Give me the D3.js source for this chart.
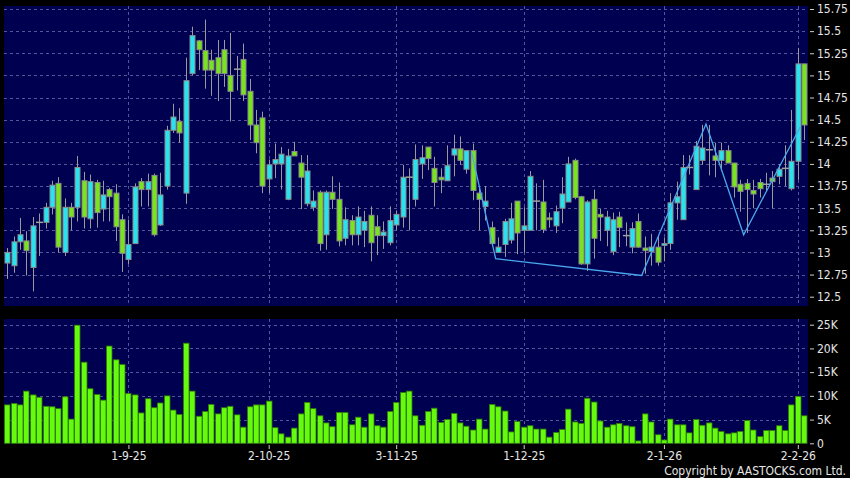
<!DOCTYPE html>
<html>
<head>
<meta charset="utf-8">
<script src="https://cdn.jsdelivr.net/npm/d3@7"></script>
<style>
body { margin: 0; background: #000; }
svg { display: block; }
</style>
</head>
<body>
<div id="canvas"></div>
<script>
// daily candles, oldest first
var openP = [12.88,12.85,13.12,13.13,12.83,13.34,13.34,13.51,13.78,13.00,
  13.51,13.51,13.81,13.38,13.79,13.49,13.71,13.67,13.37,12.92,
  13.10,13.80,13.71,13.87,13.31,13.75,14.38,14.48,13.67,15.02,
  15.39,15.28,15.17,15.20,15.29,15.00,15.07,15.18,14.82,14.44,
  14.52,13.83,14.00,14.00,13.60,14.14,14.01,13.55,13.51,13.68,
  13.20,13.68,13.60,13.16,13.36,13.20,13.25,13.42,13.29,13.19,
  13.11,13.31,13.40,13.85,13.60,14.00,14.19,13.95,13.85,13.81,
  14.10,14.17,13.94,14.15,13.67,13.52,13.28,13.00,13.09,13.14,
  13.58,13.25,13.25,13.58,13.57,13.39,13.30,13.50,13.57,14.04,
  13.63,12.87,13.60,13.43,13.25,13.01,13.40,13.19,13.06,13.35,
  13.05,13.01,13.06,13.08,13.10,13.56,13.37,13.96,13.71,14.04,
  14.16,14.09,14.04,14.15,14.01,13.77,13.78,13.70,13.79,13.77,
  13.84,13.86,13.95,13.72,14.03,15.13];
var highP = [13.05,13.18,13.39,13.24,13.40,13.44,13.56,13.81,13.85,13.61,
  13.56,14.09,13.91,13.88,13.82,13.81,13.73,13.77,13.43,13.37,
  13.78,13.84,13.89,13.89,13.90,14.43,14.68,14.63,15.20,15.55,
  15.40,15.63,15.29,15.40,15.40,15.48,15.22,15.36,14.96,14.61,
  14.59,14.05,14.23,14.19,14.17,14.25,14.10,14.10,13.70,13.70,
  13.70,13.86,13.79,13.51,13.42,13.52,13.47,13.52,13.42,13.35,
  13.52,13.47,13.99,13.95,14.22,14.21,14.19,14.08,13.95,14.21,
  14.33,14.31,14.15,14.23,13.75,13.75,13.35,13.17,13.38,13.56,
  13.58,13.51,13.92,13.78,13.82,13.45,13.53,13.85,14.08,14.06,
  13.64,13.59,13.71,13.49,13.47,13.45,13.46,13.34,13.34,13.44,
  13.18,13.21,13.19,13.17,13.67,13.80,14.10,14.10,14.26,14.44,
  14.44,14.24,14.24,14.21,14.01,13.82,13.83,13.82,13.83,13.90,
  13.92,14.00,14.21,14.61,15.31,15.13];
var lowP = [12.70,12.77,13.03,12.74,12.56,12.96,13.27,13.43,13.00,12.96,
  13.25,13.35,13.27,13.27,13.28,13.35,13.35,13.13,12.78,12.87,
  13.10,13.52,13.52,13.18,13.30,13.71,14.35,14.24,13.55,15.00,
  15.06,14.85,14.77,14.71,14.87,14.48,14.83,14.71,14.27,14.12,
  13.67,13.67,13.84,13.71,13.59,14.09,13.49,13.52,13.47,13.02,
  13.03,13.49,13.07,13.08,13.08,13.08,13.06,12.90,12.97,13.04,
  13.08,13.25,13.28,13.25,13.52,13.83,13.93,13.52,13.67,13.81,
  13.86,13.99,13.89,13.59,13.25,13.36,13.09,13.00,12.95,13.10,
  12.98,13.00,13.25,13.25,13.22,13.28,13.22,13.33,13.57,13.60,
  12.86,12.79,12.93,13.13,13.07,12.97,13.06,13.07,12.99,13.05,
  12.76,12.85,12.85,12.90,13.03,13.37,13.37,13.88,13.71,13.99,
  13.87,13.85,13.92,14.01,13.62,13.46,13.22,13.50,13.62,13.70,
  13.50,13.77,13.75,13.70,13.82,14.27];
var closeP = [13.00,13.12,13.20,13.02,13.30,13.34,13.51,13.76,13.06,13.51,
  13.40,13.96,13.40,13.80,13.45,13.65,13.63,13.29,12.99,13.09,
  13.74,13.71,13.80,13.20,13.65,14.38,14.53,14.35,14.94,15.45,
  15.29,15.06,15.06,15.02,15.02,14.82,15.07,14.78,14.44,14.24,
  13.75,13.99,14.05,14.11,14.09,14.09,13.85,13.92,13.58,13.10,
  13.68,13.60,13.13,13.37,13.20,13.40,13.35,13.11,13.19,13.23,
  13.36,13.43,13.85,13.85,14.05,14.07,14.06,13.79,13.82,13.98,
  14.17,14.04,14.15,13.70,13.60,13.58,13.10,13.06,13.35,13.38,
  13.22,13.30,13.86,13.58,13.26,13.37,13.46,13.66,14.00,13.62,
  12.87,13.57,13.16,13.40,13.40,13.37,13.28,13.19,13.27,13.06,
  13.02,13.06,12.89,13.10,13.56,13.63,13.96,13.96,14.20,14.18,
  14.16,14.04,14.15,14.01,13.74,13.69,13.71,13.66,13.72,13.77,
  13.80,13.94,13.95,14.03,15.13,14.44];
// volume, thousands of shares
var volume = [8.1,8.4,8.1,11.0,10.2,9.7,7.8,7.7,7.3,9.8,
  5.1,24.9,17.1,11.5,10.3,9.1,20.5,17.6,16.6,10.5,
  10.2,6.4,9.4,7.5,8.5,10.0,7.0,6.1,21.1,11.0,
  5.7,6.7,8.2,6.2,7.5,7.8,6.0,3.4,7.7,8.1,
  8.1,8.9,3.3,2.0,1.3,3.2,6.2,8.6,7.3,5.8,
  4.3,3.5,6.5,6.5,3.9,5.5,3.4,6.2,3.7,3.4,
  6.7,8.6,10.7,11.0,5.8,3.8,6.7,7.4,4.4,5.0,
  6.3,4.3,3.6,2.8,5.1,3.0,8.2,7.7,6.8,2.4,
  4.6,3.4,3.7,3.0,3.0,1.3,2.3,2.9,7.2,4.5,
  4.2,9.5,8.7,4.7,3.4,3.9,4.2,3.7,3.5,0.5,
  6.2,4.5,1.8,0.7,5.1,3.9,3.9,2.2,5.0,3.8,
  4.3,3.2,2.5,2.0,2.2,2.5,4.8,2.8,1.4,2.7,
  2.7,3.7,2.7,8.1,9.9,5.8];

var tickIdx = [19, 41, 61, 81, 103, 124];
var tickLabels = ['1-9-25', '2-10-25', '3-11-25', '1-12-25', '2-1-26', '2-2-26'];
var priceTicks = [12.5, 12.75, 13, 13.25, 13.5, 13.75, 14, 14.25, 14.5, 14.75, 15, 15.25, 15.5, 15.75];
var volTicks = [0, 5, 10, 15, 20, 25];
var volTickLabels = ['0', '5K', '10K', '15K', '20K', '25K'];
// pattern line drawn over the candles (candle position, price)
var zigIdx = [72.8, 76.6, 99.5, 109.6, 115.5, 124.4];
var zigPrice = [14.14, 12.93, 12.74, 14.45, 13.20, 14.42];

var width = 850, height = 478;
var pp = { left: 4, right: 808, top: 6, bottom: 306 };   // price panel
var vp = { left: 4, right: 808, top: 319, bottom: 444 }; // volume panel
var font = '"DejaVu Sans Condensed", "DejaVu Sans", sans-serif';
var gridColor = '#55559a';
var upColor = '#27e3f0', downColor = '#78e41c';

var svg = d3.select('#canvas').append('svg')
  .attr('width', width).attr('height', height)
  .style('background', '#000');

var x = d3.scaleLinear().domain([0, openP.length - 1]).range([7.3, 804.2]);
var y = d3.scaleLinear().domain([12.5, 15.75]).range([296.7, 9]);
var yv = d3.scaleLinear().domain([0, 25]).range([443.3, 324.7]);

// panel backgrounds
[pp, vp].forEach(function (p) {
  svg.append('rect')
    .attr('x', p.left).attr('y', p.top)
    .attr('width', p.right - p.left).attr('height', p.bottom - p.top)
    .attr('fill', '#000050');
});

// grids
var grid = svg.append('g').attr('stroke', gridColor).attr('stroke-dasharray', '3,3').attr('stroke-width', 1);
priceTicks.forEach(function (t) {
  grid.append('line').attr('x1', pp.left).attr('x2', pp.right)
    .attr('y1', Math.round(y(t)) + 0.5).attr('y2', Math.round(y(t)) + 0.5);
});
volTicks.slice(1).forEach(function (t) {
  grid.append('line').attr('x1', vp.left).attr('x2', vp.right)
    .attr('y1', Math.round(yv(t)) + 0.5).attr('y2', Math.round(yv(t)) + 0.5);
});
tickIdx.forEach(function (t) {
  var gx = Math.round(x(t)) + 0.5;
  grid.append('line').attr('x1', gx).attr('x2', gx).attr('y1', pp.top).attr('y2', pp.bottom);
  grid.append('line').attr('x1', gx).attr('x2', gx).attr('y1', vp.top).attr('y2', vp.bottom);
});

// candles
var bw = 5;
var candles = svg.append('g').selectAll('g')
  .data(d3.range(openP.length))
  .enter().append('g');

candles.append('line')
  .attr('x1', function (i) { return Math.round(x(i)) + 0.5; })
  .attr('x2', function (i) { return Math.round(x(i)) + 0.5; })
  .attr('y1', function (i) { return y(highP[i]); })
  .attr('y2', function (i) { return y(lowP[i]); })
  .attr('stroke', '#9a9a9a').attr('stroke-width', 1);

candles.each(function (i) {
  var g = d3.select(this);
  var cx = Math.round(x(i)) + 0.5;
  if (openP[i] === closeP[i]) {
    g.append('line')
      .attr('x1', cx - bw / 2 - 1).attr('x2', cx + bw / 2 + 1)
      .attr('y1', y(openP[i])).attr('y2', y(openP[i]))
      .attr('stroke', '#a0a0a0').attr('stroke-width', 1.5);
    return;
  }
  var top = y(Math.max(openP[i], closeP[i]));
  var bot = y(Math.min(openP[i], closeP[i]));
  g.append('rect')
    .attr('x', cx - bw / 2).attr('y', top)
    .attr('width', bw).attr('height', Math.max(1, bot - top))
    .attr('fill', closeP[i] > openP[i] ? upColor : downColor)
    .attr('stroke', '#8a8a8a').attr('stroke-width', 1);
});

// pattern line
var zigLine = d3.line()
  .x(function (d) { return x(d[0]); })
  .y(function (d) { return y(d[1]); });
svg.append('path')
  .attr('d', zigLine(zigIdx.map(function (v, k) { return [v, zigPrice[k]]; })))
  .attr('fill', 'none').attr('stroke', '#4aa8ee').attr('stroke-width', 1.3);

// volume bars
svg.append('g').selectAll('rect')
  .data(volume)
  .enter().append('rect')
  .attr('x', function (d, i) { return Math.round(x(i)) - 2.5; })
  .attr('y', function (d) { return yv(d); })
  .attr('width', 5.5)
  .attr('height', function (d) { return yv(0) - yv(d); })
  .attr('fill', '#66fb0e')
  .attr('stroke', '#2f7a06').attr('stroke-width', 0.8);

// axes
function styleAxis(g) {
  g.select('.domain').remove();
  g.selectAll('line').attr('stroke', '#d0d0d0');
  g.selectAll('text').attr('fill', '#e6e6e6').style('font-family', font).style('font-size', '12px');
}

svg.append('g')
  .attr('transform', 'translate(810,0)')
  .call(d3.axisRight(y).tickValues(priceTicks).tickFormat(function (d) { return d; }).tickSize(4).tickPadding(3))
  .call(styleAxis);

svg.append('g')
  .attr('transform', 'translate(810,0)')
  .call(d3.axisRight(yv).tickValues(volTicks).tickFormat(function (d, i) { return volTickLabels[i]; }).tickSize(4).tickPadding(3))
  .call(styleAxis);

svg.append('g')
  .attr('transform', 'translate(0,' + (vp.bottom + 1) + ')')
  .call(d3.axisBottom(x).tickValues(tickIdx).tickFormat(function (d, i) { return tickLabels[i]; }).tickSize(4).tickPadding(2))
  .call(styleAxis);

svg.append('text')
  .attr('x', 846).attr('y', 475)
  .attr('text-anchor', 'end')
  .attr('fill', '#e6e6e6')
  .style('font-family', font).style('font-size', '12px')
  .text('Copyright by AASTOCKS.com Ltd.');
</script>
</body>
</html>
